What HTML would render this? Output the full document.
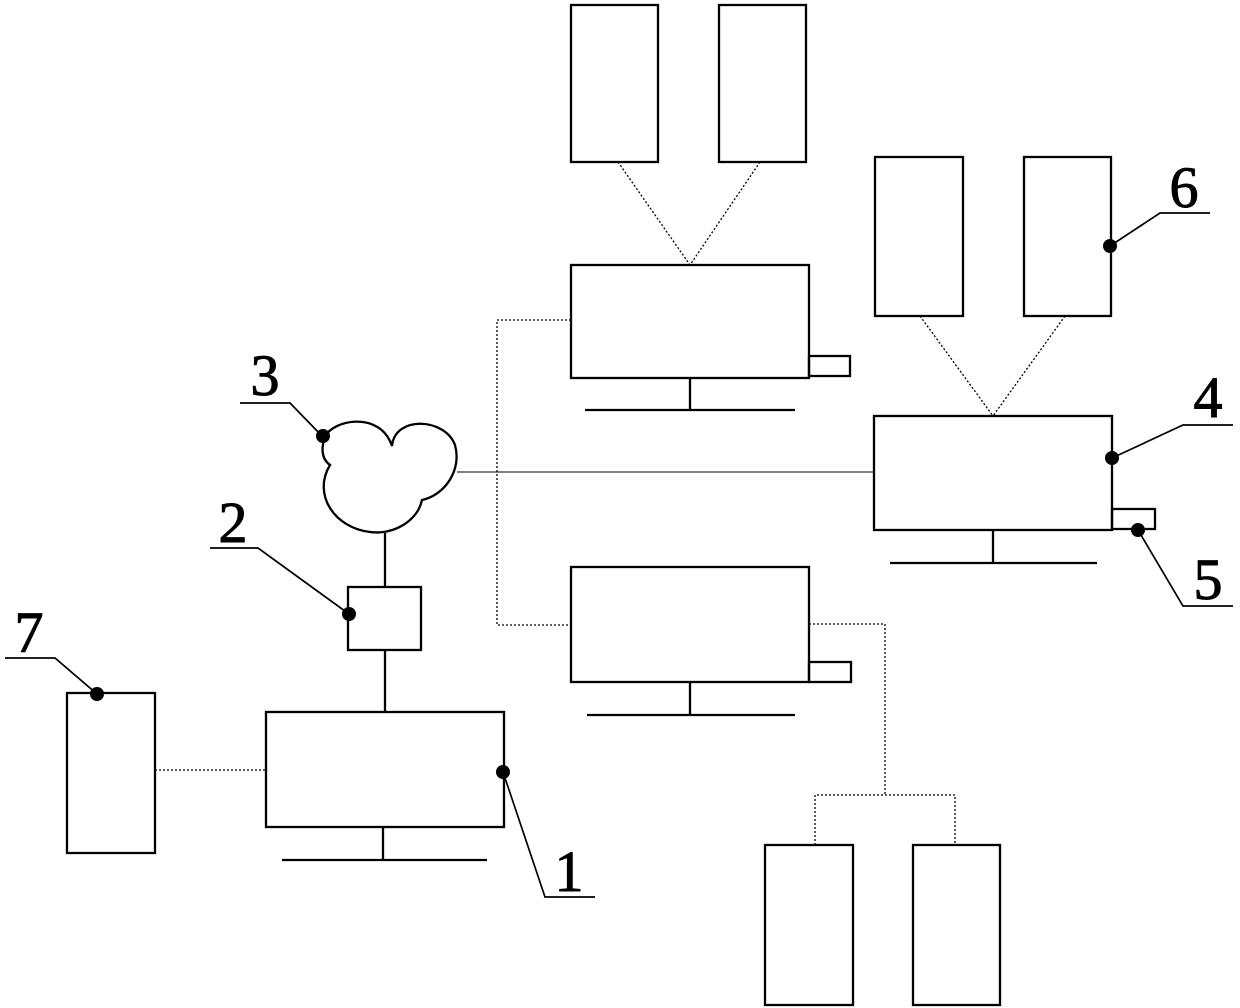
<!DOCTYPE html>
<html><head><meta charset="utf-8"><style>html,body{margin:0;padding:0;background:#fff}svg{display:block}</style></head><body>
<svg width="1240" height="1008" viewBox="0 0 1240 1008" xmlns="http://www.w3.org/2000/svg">
<g fill="none" stroke="#000" stroke-width="2.3">
<rect x="571" y="5" width="87" height="157"/>
<rect x="719" y="5" width="87" height="157"/>
<rect x="571" y="265" width="238" height="113"/>
<rect x="809" y="356" width="41" height="20"/>
<line x1="690" y1="378" x2="690" y2="410"/><line x1="585" y1="410" x2="795" y2="410"/>
<rect x="875" y="157" width="88" height="159"/>
<rect x="1024" y="157" width="87" height="159"/>
<rect x="874" y="416" width="238" height="114"/>
<rect x="1112" y="509" width="43" height="20"/>
<line x1="993" y1="530" x2="993" y2="563"/><line x1="890" y1="563" x2="1097" y2="563"/>
<rect x="571" y="567" width="238" height="115"/>
<rect x="809" y="662" width="42" height="20"/>
<line x1="690" y1="682" x2="690" y2="715"/><line x1="587" y1="715" x2="795" y2="715"/>
<rect x="765" y="845" width="88" height="160"/>
<rect x="913" y="845" width="87" height="160"/>
<rect x="348" y="587" width="73" height="63"/>
<line x1="385" y1="533" x2="385" y2="587"/><line x1="385" y1="650" x2="385" y2="712"/>
<rect x="266" y="712" width="238" height="115"/>
<line x1="383" y1="827" x2="383" y2="860"/><line x1="282" y1="860" x2="487" y2="860"/>
<rect x="67" y="693" width="88" height="160"/>
<path d="M325,437 C332,420 380,410 392,446 C395,415 445,418 455,445 C462,470 445,495 422,500 C418,520 395,535 370,532 C335,528 312,495 330,465 C320,458 322,445 325,437 Z"/>
</g>
<g fill="none" stroke="#000" stroke-width="1">
<line x1="457" y1="472" x2="874" y2="472"/>
</g>
<g fill="none" stroke="#000" stroke-width="1.3" stroke-dasharray="2,2">
<line x1="618" y1="162" x2="690" y2="265"/><line x1="760" y1="162" x2="690" y2="265"/>
<line x1="920" y1="316" x2="993" y2="416"/><line x1="1065" y1="316" x2="993" y2="416"/>
<polyline points="571,320 497,320 497,625 571,625"/>
<polyline points="809,624 885,624 885,795"/>
<polyline points="815,845 815,795 955,795 955,845"/>
<line x1="155" y1="770" x2="266" y2="770"/>
</g>
<g fill="none" stroke="#000" stroke-width="1.7">
<polyline points="240,403 290,403 322,436"/>
<polyline points="210,548 258,548 349,614"/>
<polyline points="5,658 55,658 97,694"/>
<polyline points="503,772 545,897 595,897"/>
<polyline points="1110,246 1160,213 1210,213"/>
<polyline points="1112,458 1183,425 1233,425"/>
<polyline points="1138,530 1183,606 1233,606"/>
</g>
<g fill="#000">
<circle cx="323" cy="436" r="7"/><circle cx="349" cy="614" r="7"/><circle cx="97" cy="694" r="7"/>
<circle cx="503" cy="772" r="7"/><circle cx="1110" cy="246" r="7"/><circle cx="1112" cy="458" r="7"/><circle cx="1138" cy="530" r="7"/>
</g>
<g font-family="Liberation Serif, serif" font-size="58" text-anchor="middle" fill="#000" stroke="#000" stroke-width="1">
<text x="265" y="395">3</text>
<text x="233" y="542">2</text>
<text x="29" y="652">7</text>
<text x="569" y="891">1</text>
<text x="1184" y="207">6</text>
<text x="1208" y="417">4</text>
<text x="1208" y="599">5</text>
</g>
</svg>
</body></html>
